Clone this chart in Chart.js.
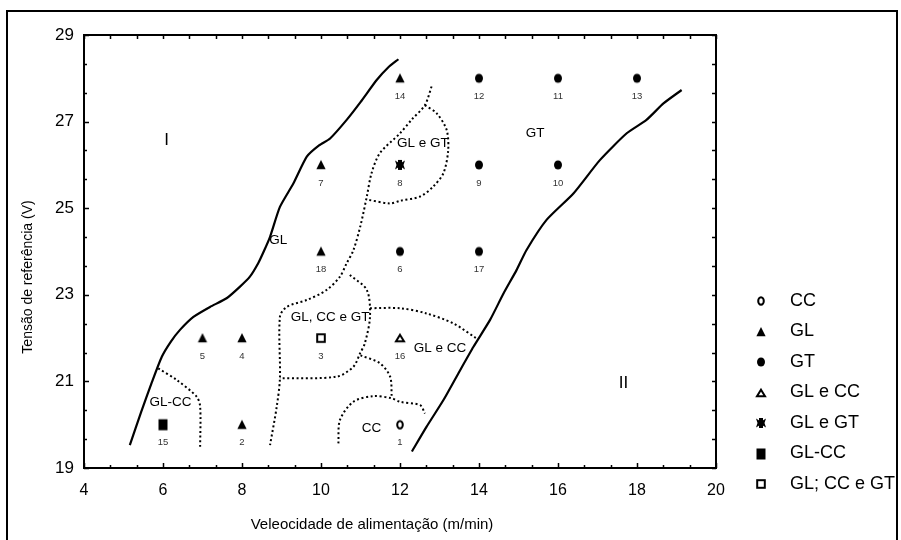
<!DOCTYPE html>
<html>
<head>
<meta charset="utf-8">
<script src="https://cdn.jsdelivr.net/npm/chart.js@4/dist/chart.umd.min.js"></script>
<style>
  html, body { margin: 0; padding: 0; background: #fff; }
  #wrap { width: 901px; height: 540px; }
</style>
</head>
<body>
<div id="wrap"><canvas id="myChart" width="901" height="540"></canvas></div>
<script>
// --- dados ---
const categories = ['CC', 'GL', 'GT', 'GL e CC', 'GL e GT', 'GL-CC', 'GL; CC e GT'];
const pointIds     = [1, 2, 3, 4, 5, 6, 7, 8, 9, 10, 11, 12, 13, 14, 15, 16, 17, 18];
const pointSpeed   = [12, 8, 10, 8, 7, 12, 10, 12, 14, 16, 16, 14, 18, 12, 6, 12, 14, 10];
const pointVoltage = [20, 20, 22, 22, 22, 24, 26, 26, 26, 26, 28, 28, 28, 28, 20, 22, 24, 24];
const pointClass   = ['CC', 'GL', 'GL; CC e GT', 'GL', 'GL', 'GT', 'GL', 'GL e GT', 'GT', 'GT',
                      'GT', 'GT', 'GT', 'GL', 'GL-CC', 'GL e CC', 'GT', 'GL'];

const xTicks = [4, 6, 8, 10, 12, 14, 16, 18, 20];
const yTicks = [19, 21, 23, 25, 27, 29];

// curvas limite (linhas cheias)
const limitLeft = [[5.16, 19.53], [5.45, 20.3], [5.71, 20.96], [5.97, 21.57], [6.2, 21.92], [6.43, 22.19],
  [6.77, 22.49], [7.19, 22.72], [7.61, 22.92], [7.95, 23.19], [8.2, 23.42], [8.41, 23.73], [8.55, 24.0],
  [8.71, 24.34], [8.96, 25.03], [9.3, 25.57], [9.64, 26.19], [9.95, 26.45], [10.23, 26.61], [10.65, 27.04],
  [11.0, 27.45], [11.41, 27.96], [11.7, 28.25], [11.96, 28.44]];
const limitRight = [[12.3, 19.38], [12.67, 19.95], [13.1, 20.57], [13.48, 21.19], [13.86, 21.8], [14.28, 22.42],
  [14.62, 23.03], [14.95, 23.57], [15.2, 24.03], [15.71, 24.73], [16.39, 25.34], [17.06, 26.11],
  [17.74, 26.73], [18.24, 27.04], [18.67, 27.42], [19.13, 27.73]];

// fronteiras das regiões (pontilhadas)
const borderA = [[12.8, 27.81], [12.63, 27.38], [12.3, 27.05], [12.0, 26.73], [11.49, 26.27], [11.28, 25.81],
  [11.16, 25.27], [11.0, 24.6], [10.82, 24.03], [10.65, 23.73], [10.48, 23.42], [10.14, 23.11], [9.64, 22.88],
  [9.13, 22.72], [8.96, 22.49], [8.96, 21.07], [8.88, 20.42], [8.71, 19.53]];
const borderB = [[12.63, 27.38], [12.93, 27.19], [13.18, 26.81], [13.22, 26.34], [13.1, 25.81], [12.84, 25.5],
  [12.51, 25.27], [12.0, 25.17], [11.75, 25.11], [11.16, 25.2]];
const borderC = [[10.73, 23.46], [11.16, 23.11], [11.24, 22.49], [11.11, 21.88], [10.99, 21.65], [10.82, 21.34],
  [10.4, 21.11], [8.96, 21.07]];
const borderD = [[11.24, 22.69], [12.0, 22.69], [12.67, 22.57], [13.35, 22.34], [13.94, 21.99]];
const borderE = [[11.0, 21.6], [11.49, 21.42], [11.75, 21.11], [11.79, 20.65]];
const borderF = [[10.44, 19.57], [10.48, 20.11], [10.82, 20.53], [11.32, 20.66], [11.79, 20.61], [12.0, 20.53],
  [12.51, 20.45], [12.63, 20.26]];
const borderG = [[5.88, 21.3], [6.35, 21.03], [6.85, 20.65], [6.94, 20.42], [6.94, 19.45]];

// rótulos das regiões
const regionText = ['I', 'II', 'GL', 'GL e GT', 'GT', 'GL, CC e GT', 'GL e CC', 'GL-CC', 'CC'];
const regionX    = [6.09, 17.66, 8.92, 12.58, 15.42, 10.23, 13.01, 6.19, 11.28];
const regionY    = [26.57, 20.96, 24.27, 26.5, 26.74, 22.49, 21.76, 20.52, 19.92];

// --- marcadores ---
const FONT = "'Liberation Sans', Arial, sans-serif";
const markerKind = {
  'CC': 'circleOpen', 'GL': 'triangle', 'GT': 'circle', 'GL e CC': 'triangleOpen',
  'GL e GT': 'star', 'GL-CC': 'square', 'GL; CC e GT': 'squareOpen'
};

function makeMarker(kind) {
  const c = document.createElement('canvas');
  c.width = 14; c.height = 14;
  const g = c.getContext('2d');
  g.translate(7, 7);
  g.fillStyle = '#000';
  g.strokeStyle = '#000';
  g.lineWidth = 2;
  g.beginPath();
  if (kind === 'circleOpen') {
    g.ellipse(0, 0, 2.8, 3.8, 0, 0, Math.PI * 2);
    g.stroke();
  } else if (kind === 'circle') {
    g.ellipse(0, 0, 4, 4.6, 0, 0, Math.PI * 2);
    g.fill();
  } else if (kind === 'triangle') {
    g.moveTo(0, -5); g.lineTo(4.6, 4.3); g.lineTo(-4.6, 4.3); g.closePath();
    g.fill();
  } else if (kind === 'triangleOpen') {
    g.moveTo(0, -3.3); g.lineTo(4, 3.2); g.lineTo(-4, 3.2); g.closePath();
    g.stroke();
  } else if (kind === 'square') {
    g.fillRect(-4.5, -5.5, 9, 11);
  } else if (kind === 'squareOpen') {
    g.strokeRect(-3.8, -3.8, 7.6, 7.6);
  } else if (kind === 'star') {
    g.moveTo(-5, -4.5); g.lineTo(-1, -2); g.lineTo(1, -2); g.lineTo(5, -4.5);
    g.lineTo(3.5, 0); g.lineTo(5, 4.5); g.lineTo(1, 2); g.lineTo(-1, 2);
    g.lineTo(-5, 4.5); g.lineTo(-3.5, 0); g.closePath();
    g.fill();
    g.fillRect(-2, -5, 4, 10);
  }
  return c;
}

// --- datasets ---
const pointSets = categories.map(cat => {
  const data = [];
  pointIds.forEach((id, i) => {
    if (pointClass[i] === cat) data.push({ x: pointSpeed[i], y: pointVoltage[i], id: id });
  });
  return {
    label: cat,
    data: data,
    pointStyle: makeMarker(markerKind[cat]),
    pointRadius: 5,
    showLine: false,
    order: 1
  };
});

function lineSet(points, dotted) {
  return {
    label: '',
    isLine: true,
    data: points.map(p => ({ x: p[0], y: p[1] })),
    showLine: true,
    borderColor: '#000',
    borderWidth: dotted ? 2 : 2.2,
    borderDash: dotted ? [2, 2.6] : [],
    pointRadius: 0,
    tension: dotted ? 0.3 : 0.2,
    fill: false,
    order: 2
  };
}

const lineSets = [
  lineSet(limitLeft, false), lineSet(limitRight, false),
  lineSet(borderA, true), lineSet(borderB, true), lineSet(borderC, true), lineSet(borderD, true),
  lineSet(borderE, true), lineSet(borderF, true), lineSet(borderG, true)
];

// --- plugin: moldura, eixos, rótulos e legenda ---
const decor = {
  id: 'decor',
  beforeDraw(chart) {
    const ctx = chart.ctx;
    ctx.save();
    ctx.fillStyle = '#fff';
    ctx.fillRect(0, 0, chart.width, chart.height);
    ctx.restore();
  },
  afterDraw(chart) {
    const ctx = chart.ctx;
    const a = chart.chartArea;
    const xs = chart.scales.x, ys = chart.scales.y;
    ctx.save();

    // moldura externa
    ctx.strokeStyle = '#000';
    ctx.lineWidth = 2;
    ctx.strokeRect(7, 11, 890, 545);

    // caixa do gráfico
    ctx.strokeRect(a.left, a.top, a.right - a.left, a.bottom - a.top);

    // marcas internas
    ctx.lineWidth = 1.5;
    ctx.beginPath();
    const step = 2 / 3;
    for (let v = xTicks[0]; v <= xTicks[xTicks.length - 1] + 1e-6; v += step) {
      const px = Math.round(xs.getPixelForValue(v)) + 0.5;
      const major = xTicks.some(t => Math.abs(t - v) < 1e-6);
      ctx.moveTo(px, a.bottom); ctx.lineTo(px, a.bottom - (major ? 5 : 3));
      ctx.moveTo(px, a.top); ctx.lineTo(px, a.top + 4);
    }
    for (let v = yTicks[0]; v <= yTicks[yTicks.length - 1] + 1e-6; v += step) {
      const py = Math.round(ys.getPixelForValue(v)) + 0.5;
      const major = yTicks.some(t => Math.abs(t - v) < 1e-6);
      ctx.moveTo(a.left, py); ctx.lineTo(a.left + (major ? 5 : 3), py);
      ctx.moveTo(a.right, py); ctx.lineTo(a.right - 4, py);
    }
    ctx.stroke();

    // números dos ensaios
    ctx.fillStyle = '#333';
    ctx.font = '9.5px ' + FONT;
    ctx.textAlign = 'center';
    ctx.textBaseline = 'middle';
    pointIds.forEach((id, i) => {
      ctx.fillText(String(id), xs.getPixelForValue(pointSpeed[i]), ys.getPixelForValue(pointVoltage[i]) + 18);
    });

    // rótulos das regiões
    ctx.fillStyle = '#000';
    regionText.forEach((t, i) => {
      ctx.font = (t === 'I' || t === 'II' ? '17px ' : '13.5px ') + FONT;
      ctx.fillText(t, xs.getPixelForValue(regionX[i]), ys.getPixelForValue(regionY[i]));
    });

    // títulos dos eixos
    ctx.font = '15px ' + FONT;
    ctx.fillText('Veleocidade de alimentação (m/min)', 372, 525);
    ctx.save();
    ctx.translate(28, 277);
    ctx.rotate(-Math.PI / 2);
    ctx.font = '14px ' + FONT;
    ctx.fillText('Tensão de referência (V)', 0, 0);
    ctx.restore();

    // legenda
    ctx.font = '18px ' + FONT;
    ctx.textAlign = 'left';
    pointSets.forEach((ds, i) => {
      const y = 301 + i * 30.5;
      ctx.drawImage(ds.pointStyle, 761 - 7, Math.round(y) - 7);
      ctx.fillText(ds.label, 790, y);
    });
    ctx.restore();
  }
};

const ctx = document.getElementById('myChart').getContext('2d');
const myChart = new Chart(ctx, {
  type: 'scatter',
  data: { datasets: [...pointSets, ...lineSets] },
  options: {
    responsive: false,
    animation: false,
    layout: { padding: { top: 35, right: 185, bottom: 0, left: 0 } },
    plugins: { legend: { display: false }, tooltip: { enabled: false } },
    scales: {
      x: {
        type: 'linear', min: 4, max: 20,
        afterBuildTicks: s => { s.ticks = xTicks.map(v => ({ value: v })); },
        afterFit: s => { s.height = 72; },
        grid: { display: false, drawTicks: false },
        border: { display: false },
        ticks: { color: '#000', padding: 13, maxRotation: 0, font: { size: 16, family: FONT } }
      },
      y: {
        type: 'linear', min: 19, max: 29,
        afterBuildTicks: s => { s.ticks = yTicks.map(v => ({ value: v })); },
        afterFit: s => { s.width = 84; },
        grid: { display: false, drawTicks: false },
        border: { display: false },
        ticks: { color: '#000', padding: 10, font: { size: 17, family: FONT } }
      }
    }
  },
  plugins: [decor]
});
</script>
</body>
</html>
